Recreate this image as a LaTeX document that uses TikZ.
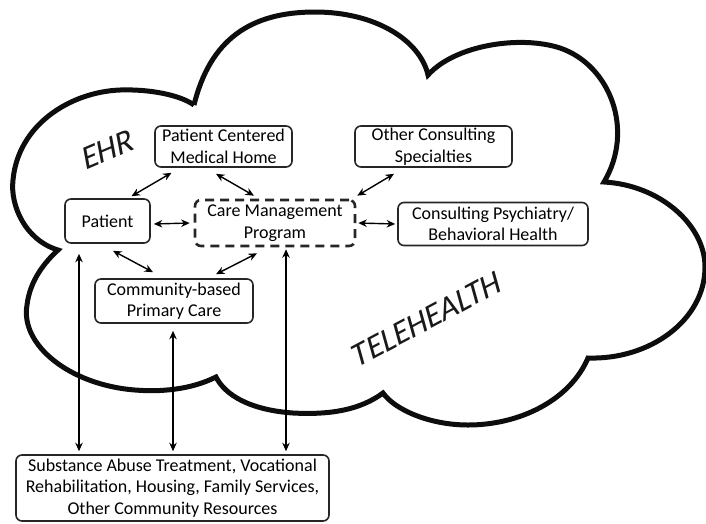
\documentclass[tikz,border=0pt]{standalone}
\usepackage{fontspec}
\setmainfont{Carlito}
\newfontfamily\handfont[FakeSlant=0.22]{Carlito}
\usetikzlibrary{arrows.meta}
\begin{document}
\begin{tikzpicture}[x=1pt,y=-1pt,
  box/.style={draw=black!85, line width=1.6pt, rounded corners=6pt, align=center,
    inner sep=0pt, font=\fontsize{18}{21.5}\selectfont, text=black},
  dashbox/.style={box, line width=2.6pt, dash pattern=on 9pt off 6pt},
  link/.style={line width=1.4pt, black, {Stealth[length=8.5pt,width=7.5pt]}-{Stealth[length=8.5pt,width=7.5pt]}},
  hand/.style={font=\handfont\fontsize{33}{33}\selectfont, text=black!90}]
\useasboundingbox (0,0) rectangle (706,523);

% cloud outline
\draw[line width=5pt, line join=miter, black!95]
  (194,105) .. controls (210,40) and (250,12) .. (315,12)
            .. controls (375,12) and (420,40) .. (428,75)
            .. controls (455,45) and (520,35) .. (560,48)
            .. controls (610,65) and (635,130) .. (604,182)
            .. controls (660,185) and (705,225) .. (705,267)
            .. controls (705,320) and (650,360) .. (588,358)
            .. controls (570,400) and (520,425) .. (468,425)
            .. controls (430,425) and (395,410) .. (383,393)
            .. controls (360,410) and (330,415) .. (293,413)
            .. controls (250,410) and (225,395) .. (216,377)
            .. controls (190,390) and (160,392) .. (135,390)
            .. controls (70,385) and (20,345) .. (27,305)
            .. controls (30,280) and (45,262) .. (58,250)
            .. controls (25,240) and (10,205) .. (13,180)
            .. controls (18,125) and (70,92) .. (120,90)
            .. controls (150,89) and (180,95) .. (194,105);

% labels on the cloud
\node[hand, rotate=23] (ehr) at (106,150) {EHR};
\node[hand, rotate=28] (tele) at (425,320) {TELEHEALTH};

% boxes
\node[box, minimum width=137pt, minimum height=41pt] (pcmh) at (223.5,146.5) {Patient Centered\\Medical Home};
\node[box, minimum width=157pt, minimum height=41pt] (other) at (433.5,146.5) {Other Consulting\\Specialties};
\node[box, minimum width=85pt, minimum height=44pt] (patient) at (107.5,221) {Patient};
\node[dashbox, minimum width=160pt, minimum height=46pt] (care) at (275,223) {Care Management\\Program};
\node[box, minimum width=190pt, minimum height=43pt] (psych) at (493,224) {Consulting Psychiatry/\\Behavioral Health};
\node[box, minimum width=158pt, minimum height=44pt] (comm) at (174,301) {Community-based\\Primary Care};
\node[box, minimum width=313pt, minimum height=66pt] (res) at (172.5,488) {Substance Abuse Treatment, Vocational\\Rehabilitation, Housing, Family Services,\\Other Community Resources};

% connectors
\draw[link] ([xshift=24pt,yshift=2pt]patient.north) -- ([xshift=-52pt,yshift=-5pt]pcmh.south);
\draw[link] ([xshift=-7.5pt,yshift=-6pt]pcmh.south) -- ([xshift=-21pt,yshift=3pt]care.north);
\draw[link] ([xshift=-39.5pt,yshift=-6pt]other.south) -- ([xshift=1pt,yshift=3pt]care.north east);
\draw[link] ([xshift=3pt,yshift=-3pt]patient.east) -- ([xshift=-4pt]care.west);
\draw[link] ([xshift=2pt]care.east) -- ([xshift=-2pt]psych.west);
\draw[link] ([xshift=5.5pt,yshift=-7pt]patient.south) -- ([xshift=-21pt,yshift=6pt]comm.north);
\draw[link] ([xshift=-18pt,yshift=-6pt]care.south) -- ([xshift=42pt,yshift=4pt]comm.north);
\draw[link] ([xshift=-28.5pt,yshift=-10pt]patient.south) -- ([xshift=-93.5pt,yshift=3pt]res.north);
\draw[link] ([xshift=-1pt,yshift=-7pt]comm.south) -- ([xshift=0.5pt,yshift=3pt]res.north);
\draw[link] ([xshift=11pt,yshift=-2pt]care.south) -- ([xshift=113.5pt,yshift=3pt]res.north);
\end{tikzpicture}
\end{document}
